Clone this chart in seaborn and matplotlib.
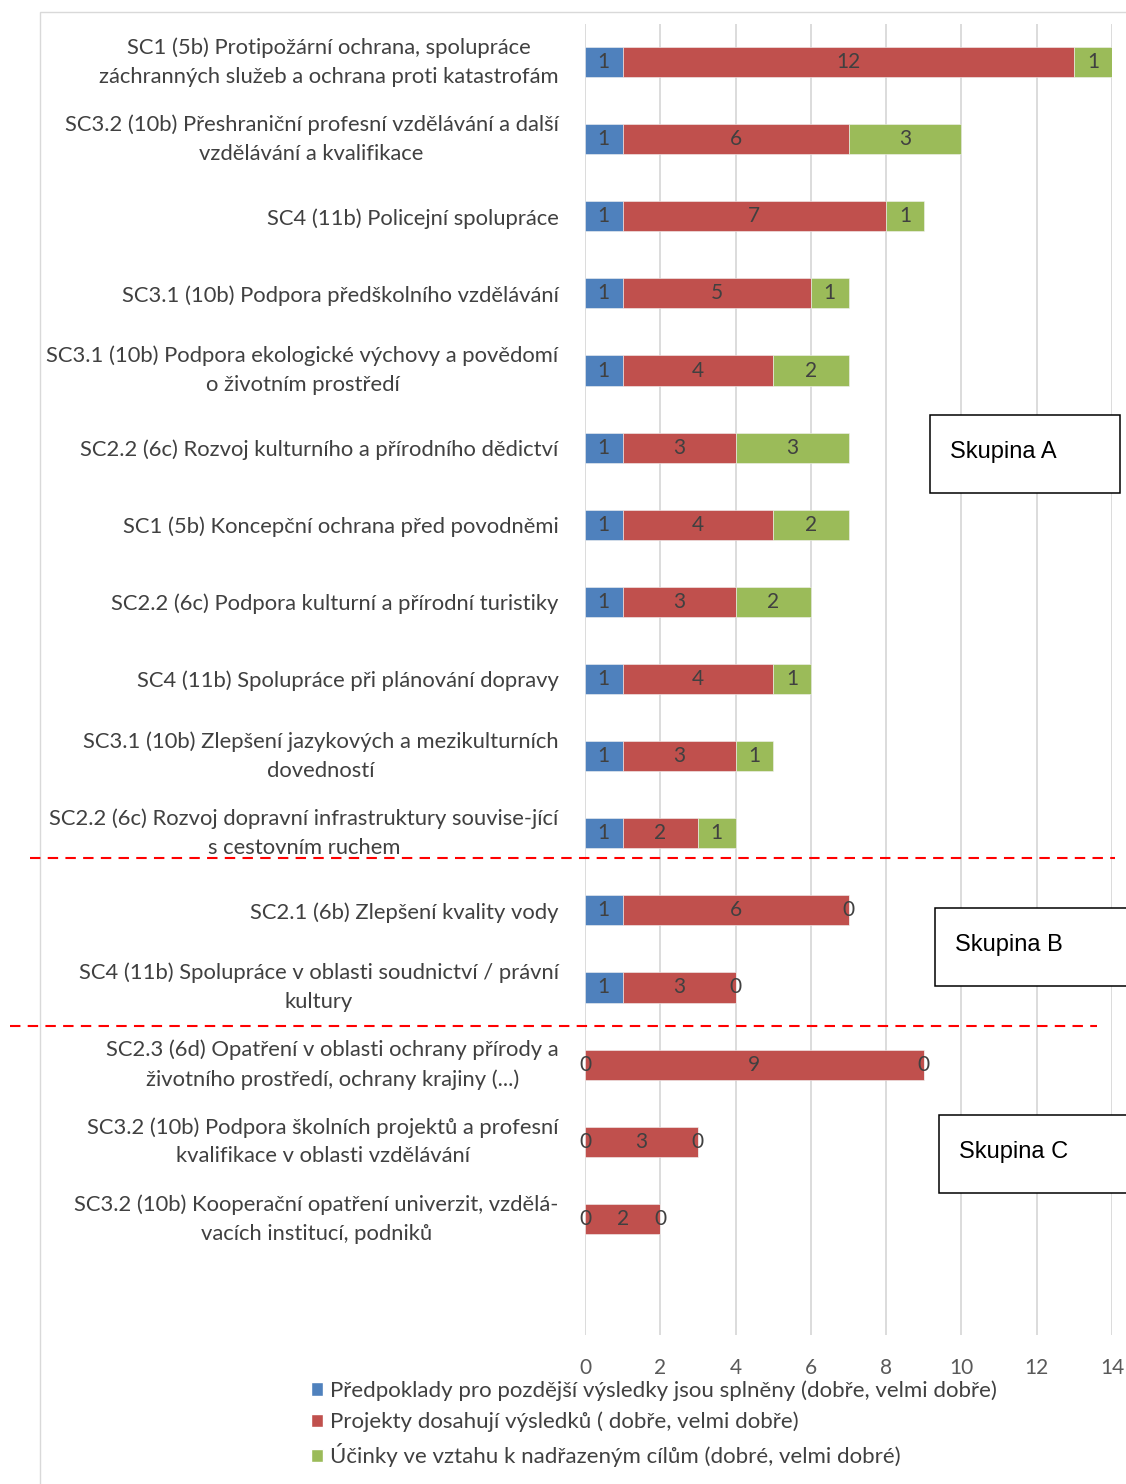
import numpy as np
import pandas as pd
import matplotlib
matplotlib.use("Agg")
import matplotlib.pyplot as plt
from matplotlib.patches import Rectangle
from matplotlib.lines import Line2D
import seaborn as sns

categories = [
    "SC1 (5b) Protipožární ochrana, spolupráce\nzáchranných služeb a ochrana proti katastrofám",
    "SC3.2 (10b) Přeshraniční profesní vzdělávání a další\nvzdělávání a kvalifikace",
    "SC4 (11b) Policejní spolupráce",
    "SC3.1 (10b) Podpora předškolního vzdělávání",
    "SC3.1 (10b) Podpora ekologické výchovy a povědomí\no životním prostředí",
    "SC2.2 (6c) Rozvoj kulturního a přírodního dědictví",
    "SC1 (5b) Koncepční ochrana před povodněmi",
    "SC2.2 (6c) Podpora kulturní a přírodní turistiky",
    "SC4 (11b) Spolupráce při plánování dopravy",
    "SC3.1 (10b) Zlepšení jazykových a mezikulturních\ndovedností",
    "SC2.2 (6c) Rozvoj dopravní infrastruktury souvise-jící\ns cestovním ruchem",
    "SC2.1 (6b) Zlepšení kvality vody",
    "SC4 (11b) Spolupráce v oblasti soudnictví / právní\nkultury",
    "SC2.3 (6d) Opatření v oblasti ochrany přírody a\nživotního prostředí, ochrany krajiny (...)",
    "SC3.2 (10b) Podpora školních projektů a profesní\nkvalifikace v oblasti vzdělávání",
    "SC3.2 (10b) Kooperační opatření univerzit, vzdělá-\nvacích institucí, podniků",
]
predpoklady = [1, 1, 1, 1, 1, 1, 1, 1, 1, 1, 1, 1, 1, 0, 0, 0]
projekty = [12, 6, 7, 5, 4, 3, 4, 3, 4, 3, 2, 6, 3, 9, 3, 2]
ucinky = [1, 3, 1, 1, 2, 3, 2, 2, 1, 1, 1, 0, 0, 0, 0, 0]

series_names = [
    "Předpoklady pro pozdější výsledky jsou splněny (dobře, velmi dobře)",
    "Projekty dosahují výsledků ( dobře, velmi dobře)",
    "Účinky ve vztahu k nadřazeným cílům (dobré, velmi dobré)",
]
groups = ["Skupina A", "Skupina B", "Skupina C"]

colors = ["#4F81BD", "#C0504D", "#9BBB59"]

sns.set_style("white")
plt.rcParams["font.family"] = ["Lato", "DejaVu Sans"]

W, H = 1126, 1484


def fx(px):
    return px / W


def fy(py):
    return 1 - py / H


fig = plt.figure(figsize=(W / 100, H / 100), dpi=100)
ax = fig.add_axes([fx(585), fy(1334.5), fx(1112) - fx(585), fy(23.5) - fy(1334.5)])

df = pd.DataFrame({"cat": categories, "pred": predpoklady, "proj": projekty, "uc": ucinky})

left = np.zeros(len(df))
for col, color, name in zip(["pred", "proj", "uc"], colors, series_names):
    sns.barplot(data=df, x=col, y="cat", orient="h", color=color, saturation=1,
                width=0.39, left=left, ax=ax, label=name,
                edgecolor="#f2f2f2", linewidth=0.4)
    left = left + df[col].values

for cont, col in zip(ax.containers, ["pred", "proj", "uc"]):
    ax.bar_label(cont, labels=[str(v) for v in df[col]], label_type="center",
                 fontsize=15, color="#404040")

if ax.get_legend() is not None:
    ax.get_legend().remove()

ax.set_xlim(0, 14)
ax.set_ylim(len(categories) - 0.5 + 1, -0.5)
ax.set_xticks(range(0, 15, 2))
ax.set_xlabel("")
ax.set_ylabel("")
for s in ax.spines.values():
    s.set_visible(False)
ax.xaxis.grid(True, color="#D9D9D9", linewidth=1.3)
ax.yaxis.grid(False)
ax.set_axisbelow(True)
ax.tick_params(axis="x", length=0, pad=17, labelsize=15, labelcolor="#595959")
ax.tick_params(axis="y", length=0, pad=19, labelsize=15.8, labelcolor="#404040")
for lbl in ax.get_yticklabels():
    lbl.set_multialignment("center")
    lbl.set_linespacing(1.55)
    if "\n" in lbl.get_text():
        lbl.set_verticalalignment("center")

# outer chart border
fig.add_artist(Rectangle((fx(40), fy(1500)), fx(1200) - fx(40), fy(12) - fy(1500),
                         transform=fig.transFigure, fill=False, edgecolor="#D9D9D9", linewidth=1))

# group separators
for y, x0, x1 in [(858, 30, 1115), (1026, 10, 1097)]:
    fig.add_artist(Line2D([fx(x0), fx(x1)], [fy(y), fy(y)], transform=fig.transFigure,
                          color="#FF0000", linewidth=1.5, linestyle=(0, (5, 3.5))))

# group boxes
for name, (x0, y0, x1, y1) in zip(groups, [(930, 415, 1120, 493), (935, 908, 1135, 986),
                                           (939, 1115, 1135, 1193)]):
    fig.add_artist(Rectangle((fx(x0), fy(y1)), fx(x1) - fx(x0), fy(y0) - fy(y1),
                             transform=fig.transFigure, facecolor="white",
                             edgecolor="black", linewidth=1.1, zorder=5))
    fig.text(fx(x0 + 20), fy((y0 + y1) / 2 - 2), name, fontsize=17, family="Liberation Sans",
             ha="left", va="center", color="black", zorder=6)

handles = [Rectangle((0, 0), 1, 1, facecolor=c) for c in colors]
fig.legend(handles, series_names, loc="upper left", bbox_to_anchor=(fx(300), fy(1369)),
           frameon=False, fontsize=16, handlelength=0.55, handleheight=0.55,
           handletextpad=0.32, labelspacing=0.49, borderpad=0, labelcolor="#404040")

fig.savefig("out.png", dpi=100)
